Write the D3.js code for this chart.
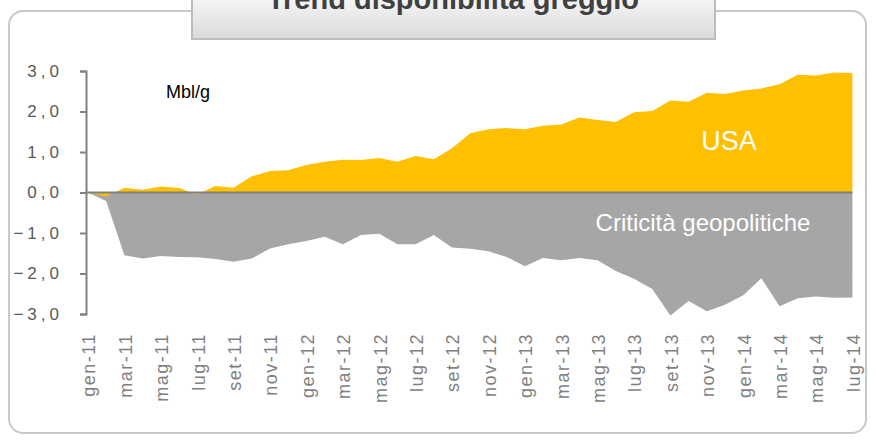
<!DOCTYPE html>
<html>
<head>
<meta charset="utf-8">
<script src="https://cdn.jsdelivr.net/npm/d3@7"></script>
<style>
  body { margin: 0; background: #fff; }
  svg { display: block; font-family: "Liberation Sans", Arial, sans-serif; }
</style>
</head>
<body>
<svg width="876" height="441"></svg>
<script>
var months = [
  "gen-11", "feb-11", "mar-11", "apr-11", "mag-11", "giu-11", "lug-11", "ago-11", "set-11", "ott-11", "nov-11", "dic-11",
  "gen-12", "feb-12", "mar-12", "apr-12", "mag-12", "giu-12", "lug-12", "ago-12", "set-12", "ott-12", "nov-12", "dic-12",
  "gen-13", "feb-13", "mar-13", "apr-13", "mag-13", "giu-13", "lug-13", "ago-13", "set-13", "ott-13", "nov-13", "dic-13",
  "gen-14", "feb-14", "mar-14", "apr-14", "mag-14", "giu-14", "lug-14"
];
var usa = [0, -0.1, 0.12, 0.07, 0.15, 0.11, -0.05, 0.16, 0.12, 0.4, 0.53, 0.55,
  0.68, 0.76, 0.81, 0.8, 0.85, 0.76, 0.9, 0.82, 1.09, 1.46, 1.56, 1.59,
  1.56, 1.65, 1.68, 1.85, 1.79, 1.74, 1.98, 2.01, 2.27, 2.24, 2.46, 2.43,
  2.52, 2.57, 2.67, 2.91, 2.89, 2.96, 2.95];
var crit = [0, -0.21, -1.55, -1.63, -1.57, -1.59, -1.6, -1.64, -1.71, -1.63, -1.38, -1.28,
  -1.2, -1.09, -1.28, -1.05, -1.02, -1.28, -1.28, -1.05, -1.36, -1.39, -1.45, -1.59,
  -1.82, -1.62, -1.67, -1.62, -1.67, -1.94, -2.13, -2.38, -3.04, -2.68, -2.93, -2.77,
  -2.54, -2.12, -2.81, -2.61, -2.57, -2.6, -2.59];
var yTicks = [-3, -2, -1, 0, 1, 2, 3];

var svg = d3.select("svg");

// frame + title box
svg.append("rect")
  .attr("x", 9).attr("y", 11).attr("width", 857).attr("height", 422)
  .attr("rx", 14)
  .style("fill", "#fff").style("stroke", "#c8c8c8").style("stroke-width", 2);

var grad = svg.append("defs").append("linearGradient")
  .attr("id", "tg").attr("x1", 0).attr("y1", 0).attr("x2", 0).attr("y2", 1);
grad.append("stop").attr("offset", "0%").attr("stop-color", "#f8f8f8");
grad.append("stop").attr("offset", "100%").attr("stop-color", "#dadada");

svg.append("rect")
  .attr("x", 192).attr("y", -6).attr("width", 523).attr("height", 45)
  .style("fill", "url(#tg)").style("stroke", "#bdbdbd").style("stroke-width", 2);

svg.append("text")
  .attr("x", 453).attr("y", 9)
  .attr("text-anchor", "middle")
  .style("font-size", "29px").style("font-weight", "bold")
  .style("fill", "#404040")
  .text("Trend disponibilità greggio");

// scales
var x = d3.scalePoint().domain(months).range([88, 852.4]),
  y = d3.scaleLinear().domain([-3, 3]).range([314, 71]);

var area = function (vals) {
  return d3.area()
    .x(function (d, i) { return x(months[i]); })
    .y0(y(0))
    .y1(function (d) { return y(d); })(vals);
};

svg.append("path").attr("d", area(crit)).style("fill", "#a6a6a6");
svg.append("path").attr("d", area(usa)).style("fill", "#ffc000");

// zero line
svg.append("line")
  .attr("x1", 86).attr("x2", x(months[months.length - 1]))
  .attr("y1", y(0)).attr("y2", y(0))
  .style("stroke", "#808080").style("stroke-width", 2);

// y axis
var yAxis = svg.append("g")
  .attr("transform", "translate(86,0)")
  .call(d3.axisLeft(y).tickValues(yTicks).tickSize(6).tickPadding(17)
    .tickFormat(function (d) { return d3.format(".1f")(d).replace(".", ","); }));
yAxis.select(".domain").style("stroke", "#808080").style("stroke-width", 2);
yAxis.selectAll(".tick line").style("stroke", "#808080").style("stroke-width", 2);
yAxis.selectAll("text")
  .style("font-family", "'Liberation Sans', Arial, sans-serif")
  .style("font-size", "17px").style("letter-spacing", "4px")
  .style("fill", "#595959");

// x labels (every 2 months)
svg.append("g").selectAll("text")
  .data(months.filter(function (d, i) { return i % 2 === 0; }))
  .enter().append("text")
  .attr("transform", function (d) { return "translate(" + (x(d) + 1) + ",333)rotate(-90)"; })
  .attr("text-anchor", "end")
  .attr("dy", "0.35em")
  .style("font-size", "18px").style("letter-spacing", "1.5px")
  .style("fill", "#7f7f7f")
  .text(function (d) { return d; });

// labels
svg.append("text")
  .attr("x", 166).attr("y", 98)
  .style("font-size", "18px").style("fill", "#000")
  .text("Mbl/g");

svg.append("text")
  .attr("x", 729).attr("y", 150)
  .attr("text-anchor", "middle")
  .style("font-size", "27px").style("fill", "#fff")
  .text("USA");

svg.append("text")
  .attr("x", 703).attr("y", 231)
  .attr("text-anchor", "middle")
  .style("font-size", "24px").style("fill", "#fff")
  .text("Criticità geopolitiche");
</script>
</body>
</html>
